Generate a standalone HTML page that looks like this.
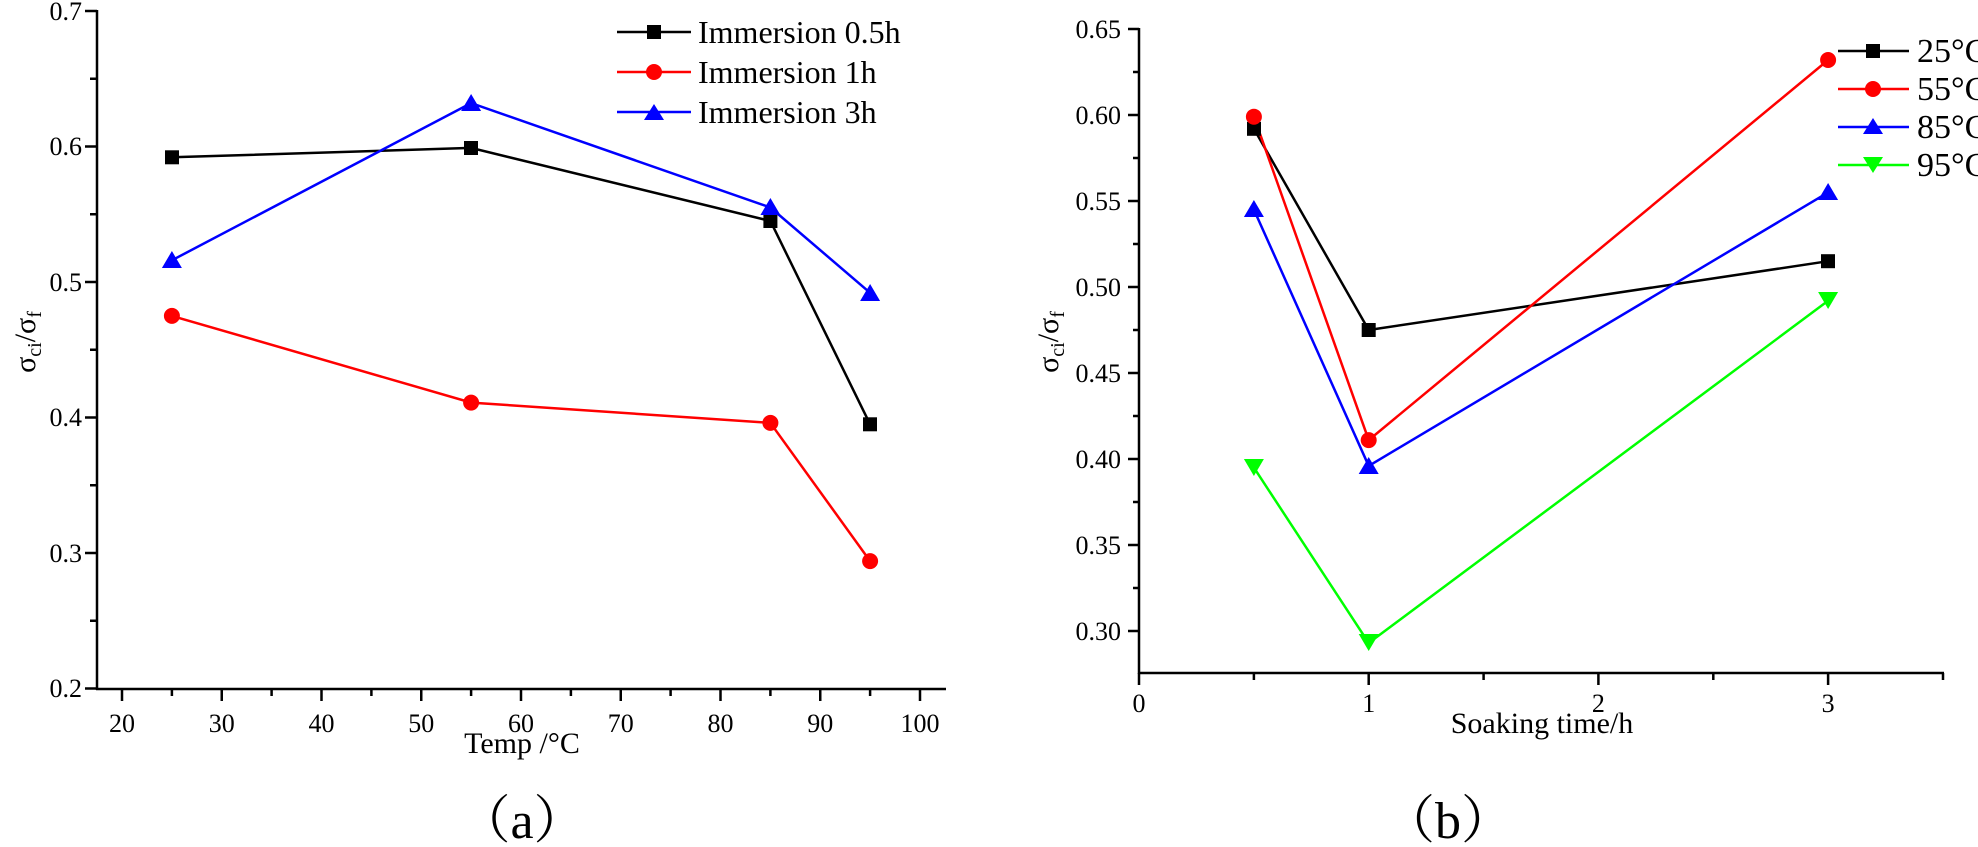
<!DOCTYPE html>
<html><head><meta charset="utf-8"><style>
html,body{margin:0;padding:0;background:#fff;}
svg{display:block;font-family:"Liberation Serif","Noto Serif CJK SC",serif;}
</style></head><body>
<svg width="1978" height="847" viewBox="0 0 1978 847" xmlns="http://www.w3.org/2000/svg">
<g stroke="#000" stroke-width="2.5" fill="none">
<line x1="97" y1="10" x2="97" y2="690"/>
<line x1="96" y1="689" x2="946" y2="689"/>
<path d="M85 11H97M85 146.5H97M85 282H97M85 417.5H97M85 553H97M85 688.5H97"/>
<path d="M90 78.75H97M90 214.25H97M90 349.75H97M90 485.25H97M90 620.75H97"/>
<path d="M122 689V701M221.75 689V701M321.5 689V701M421.25 689V701M521 689V701M620.75 689V701M720.5 689V701M820.25 689V701M920 689V701"/>
<path d="M171.9 689V696M271.6 689V696M371.4 689V696M471.1 689V696M570.9 689V696M670.6 689V696M770.4 689V696M870.1 689V696"/>
<line x1="1139" y1="28" x2="1139" y2="674"/>
<line x1="1138" y1="673" x2="1944" y2="673"/>
<path d="M1128 29H1139M1128 115H1139M1128 201H1139M1128 287H1139M1128 373H1139M1128 459H1139M1128 545H1139M1128 631H1139"/>
<path d="M1133 72H1139M1133 158H1139M1133 244H1139M1133 330H1139M1133 416H1139M1133 502H1139M1133 588H1139"/>
<path d="M1139 673V685M1368.7 673V685M1598.4 673V685M1828.1 673V685"/>
<path d="M1253.9 673V680M1483.6 673V680M1713.3 673V680M1943 673V680"/>
</g>
<g font-size="26" fill="#000" text-anchor="end">
<text x="82" y="20">0.7</text><text x="82" y="155">0.6</text><text x="82" y="291">0.5</text>
<text x="82" y="426">0.4</text><text x="82" y="562">0.3</text><text x="82" y="697">0.2</text>
<text x="1121" y="38">0.65</text><text x="1121" y="124">0.60</text><text x="1121" y="210">0.55</text>
<text x="1121" y="296">0.50</text><text x="1121" y="382">0.45</text><text x="1121" y="468">0.40</text>
<text x="1121" y="554">0.35</text><text x="1121" y="640">0.30</text>
</g>
<g font-size="26" fill="#000" text-anchor="middle">
<text x="122" y="732">20</text><text x="221.75" y="732">30</text><text x="321.5" y="732">40</text>
<text x="421.25" y="732">50</text><text x="521" y="732">60</text><text x="620.75" y="732">70</text>
<text x="720.5" y="732">80</text><text x="820.25" y="732">90</text><text x="920" y="732">100</text>
<text x="1139" y="712">0</text><text x="1368.7" y="712">1</text><text x="1598.4" y="712">2</text><text x="1828.1" y="712">3</text>
</g>
<g font-size="30" fill="#000" text-anchor="middle">
<text x="522" y="753">Temp /°C</text>
<text x="1542" y="733">Soaking time/h</text>
<text x="522" y="838" font-size="52">（a）</text>
<text x="1448" y="838" font-size="52">（b）</text>
<text transform="translate(35,342) rotate(-90)">σ<tspan font-size="20" dy="6">ci</tspan><tspan dy="-6">/σ</tspan><tspan font-size="20" dy="6">f</tspan></text>
<text transform="translate(1058,342) rotate(-90)">σ<tspan font-size="20" dy="6">ci</tspan><tspan dy="-6">/σ</tspan><tspan font-size="20" dy="6">f</tspan></text>
</g>
<g stroke-width="2.5" fill="none">
<polyline stroke="#000" points="171.9,157.3 471.1,147.9 770.4,221 870.1,424.3"/>
<polyline stroke="#f00" points="171.9,315.9 471.1,402.6 770.4,422.9 870.1,561.1"/>
<polyline stroke="#00f" points="171.9,260.3 471.1,103.1 770.4,207.5 870.1,292.8"/>
</g>
<g fill="#000"><rect x="165" y="150.3" width="14" height="14"/><rect x="464" y="141" width="14" height="14"/><rect x="763.4" y="214" width="14" height="14"/><rect x="863" y="417.3" width="14" height="14"/></g>
<g fill="#f00"><circle cx="171.9" cy="315.9" r="8"/><circle cx="471.1" cy="402.6" r="8"/><circle cx="770.4" cy="422.9" r="8"/><circle cx="870.1" cy="561.1" r="8"/></g>
<g fill="#00f"><path d="M171.9 251L181.9 268H161.9Z"/><path d="M471.1 94L481.1 111H461.1Z"/><path d="M770.4 198L780.4 215H760.4Z"/><path d="M870.1 284L880.1 301H860.1Z"/></g>
<g stroke-width="2.5"><line x1="617" y1="32" x2="691" y2="32" stroke="#000"/><line x1="617" y1="72" x2="691" y2="72" stroke="#f00"/><line x1="617" y1="112" x2="691" y2="112" stroke="#00f"/></g>
<rect x="647" y="25" width="14" height="14" fill="#000"/><circle cx="654" cy="72" r="8" fill="#f00"/><path d="M654 104L664 120H644Z" fill="#00f"/>
<g font-size="32" fill="#000"><text x="698" y="43">Immersion 0.5h</text><text x="698" y="83">Immersion 1h</text><text x="698" y="123">Immersion 3h</text></g>
<g stroke-width="2.5" fill="none">
<polyline stroke="#000" points="1253.9,128.8 1368.7,330 1828.1,261.2"/>
<polyline stroke="#f00" points="1253.9,116.7 1368.7,440.1 1828.1,60"/>
<polyline stroke="#00f" points="1253.9,209.6 1368.7,465.9 1828.1,192.4"/>
<polyline stroke="#0f0" points="1253.9,467.6 1368.7,643 1828.1,300.8"/>
</g>
<g fill="#000"><rect x="1247" y="121.8" width="14" height="14"/><rect x="1361.7" y="323" width="14" height="14"/><rect x="1821" y="254.2" width="14" height="14"/></g>
<g fill="#00f"><path d="M1253.9 200L1263.9 217H1243.9Z"/><path d="M1368.7 457L1378.7 474H1358.7Z"/><path d="M1828.1 183L1838.1 200H1818.1Z"/></g>
<g fill="#0f0"><path d="M1253.9 476L1263.9 459H1243.9Z"/><path d="M1368.7 651L1378.7 634H1358.7Z"/><path d="M1828.1 309L1838.1 292H1818.1Z"/></g>
<g fill="#f00"><circle cx="1253.9" cy="116.7" r="8"/><circle cx="1368.7" cy="440.1" r="8"/><circle cx="1828.1" cy="60" r="8"/></g>
<g stroke-width="2.5"><line x1="1838" y1="51" x2="1909" y2="51" stroke="#000"/><line x1="1838" y1="89" x2="1909" y2="89" stroke="#f00"/><line x1="1838" y1="127" x2="1909" y2="127" stroke="#00f"/><line x1="1838" y1="165" x2="1909" y2="165" stroke="#0f0"/></g>
<rect x="1866" y="44" width="14" height="14" fill="#000"/><circle cx="1873" cy="89" r="8" fill="#f00"/><path d="M1873 118L1883 134H1863Z" fill="#00f"/><path d="M1873 173L1883 157H1863Z" fill="#0f0"/>
<g font-size="34" fill="#000"><text x="1917" y="62">25°C</text><text x="1917" y="100">55°C</text><text x="1917" y="138">85°C</text><text x="1917" y="176">95°C</text></g>
</svg>
</body></html>
